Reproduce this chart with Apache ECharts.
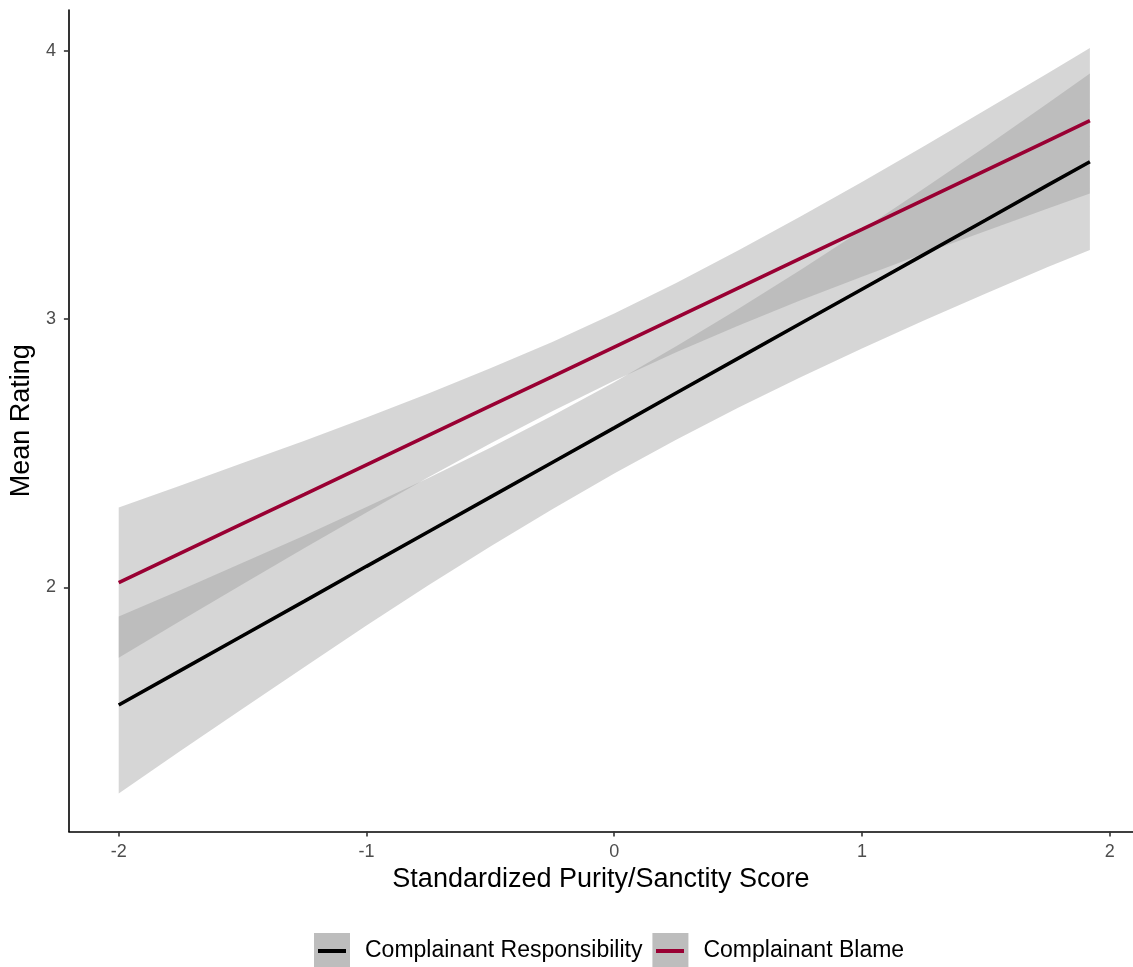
<!DOCTYPE html>
<html>
<head>
<meta charset="utf-8">
<title>Mean Rating by Standardized Purity/Sanctity Score</title>
<script src="https://cdn.jsdelivr.net/npm/echarts@6/dist/echarts.min.js"></script>
<style>
  html, body { margin: 0; padding: 0; background: #ffffff; }
  #chart { width: 1133px; height: 967px; }
</style>
</head>
<body>
<div id="chart"></div>
<script>
// Standardized purity/sanctity score at which the fits are evaluated
const xGrid = [-2, -1.75, -1.5, -1.25, -1, -0.75, -0.5, -0.25, 0, 0.25, 0.5, 0.75, 1, 1.25, 1.5, 1.75, 1.92];

// Complainant Responsibility: fitted line and 95% band
const respFit   = [1.562, 1.691, 1.820, 1.949, 2.079, 2.208, 2.337, 2.466, 2.595, 2.725, 2.854, 2.983, 3.112, 3.241, 3.370, 3.500, 3.587];
const respLower = [1.232, 1.391, 1.548, 1.704, 1.858, 2.008, 2.153, 2.292, 2.425, 2.551, 2.670, 2.783, 2.891, 2.995, 3.096, 3.195, 3.258];
const respUpper = [1.892, 1.991, 2.092, 2.194, 2.300, 2.408, 2.521, 2.640, 2.765, 2.899, 3.038, 3.183, 3.333, 3.487, 3.644, 3.805, 3.916];

// Complainant Blame: fitted line and 95% band
const blameFit   = [2.018, 2.128, 2.238, 2.347, 2.457, 2.567, 2.677, 2.786, 2.896, 3.006, 3.116, 3.226, 3.335, 3.445, 3.555, 3.665, 3.740];
const blameLower = [1.738, 1.876, 2.012, 2.147, 2.280, 2.411, 2.537, 2.657, 2.771, 2.877, 2.976, 3.070, 3.158, 3.245, 3.329, 3.413, 3.469];
const blameUpper = [2.298, 2.380, 2.464, 2.547, 2.634, 2.723, 2.817, 2.915, 3.021, 3.135, 3.256, 3.382, 3.512, 3.645, 3.781, 3.917, 4.011];

// Axis tick values
const xTicks = [-2, -1, 0, 1, 2];
const yTicks = [2, 3, 4];

const seriesNames = ['Complainant Responsibility', 'Complainant Blame'];
const lineColors = ['#000000', '#990033'];

const FONT = 'Liberation Sans, Arial, sans-serif';
const BAND_FILL = 'rgba(153,153,153,0.4)';

function pairs(xs, ys) {
  return xs.map((x, i) => [x, ys[i]]);
}

// Confidence band drawn as one polygon through the axis scales
function bandSeries(name, lower, upper) {
  return {
    type: 'custom',
    name: name,
    silent: true,
    clip: true,
    data: [[xGrid[0], lower[0]]],
    renderItem: function (params, api) {
      const top = xGrid.map((x, i) => api.coord([x, upper[i]]));
      const bottom = xGrid.map((x, i) => api.coord([x, lower[i]])).reverse();
      return {
        type: 'polygon',
        shape: { points: top.concat(bottom) },
        style: { fill: BAND_FILL, stroke: null }
      };
    }
  };
}

function fitSeries(name, values, color) {
  return {
    type: 'line',
    name: name,
    data: pairs(xGrid, values),
    symbol: 'none',
    showSymbol: false,
    silent: true,
    color: color,
    lineStyle: { color: color, width: 3.6 }
  };
}

// Coloured line glyph placed over a legend key box
function keyLine(left, name, color) {
  return {
    left: left,
    top: 949,
    padding: 0,
    icon: 'rect',
    itemWidth: 28,
    itemHeight: 4,
    selectedMode: false,
    formatter: function () { return ''; },
    textStyle: { fontSize: 1, color: 'rgba(0,0,0,0)' },
    itemStyle: { borderWidth: 0 },
    data: [{ name: name, itemStyle: { color: color, borderWidth: 0 } }]
  };
}

const chart = echarts.init(document.getElementById('chart'), null, { renderer: 'canvas' });

chart.setOption({
  backgroundColor: '#ffffff',
  animation: false,
  textStyle: { fontFamily: FONT },
  grid: { left: 65, top: 10, width: 1068, height: 821.5, containLabel: false },
  xAxis: {
    type: 'value',
    min: -2.201,
    max: 2.094,
    name: 'Standardized Purity/Sanctity Score',
    nameLocation: 'middle',
    nameGap: 34,
    nameTextStyle: { fontFamily: FONT, fontSize: 27, color: '#000000' },
    axisLine: { show: true, onZero: false, lineStyle: { color: '#000000', width: 1.6 } },
    axisTick: { show: true, length: 5, customValues: xTicks, lineStyle: { color: '#333333', width: 1.6 } },
    axisLabel: { customValues: xTicks, margin: 12, fontFamily: FONT, fontSize: 18, color: '#4d4d4d' },
    splitLine: { show: false }
  },
  yAxis: {
    type: 'value',
    min: 1.0904,
    max: 4.1528,
    name: 'Mean Rating',
    nameLocation: 'middle',
    nameGap: 23,
    nameTextStyle: { fontFamily: FONT, fontSize: 27, color: '#000000' },
    axisLine: { show: true, onZero: false, lineStyle: { color: '#000000', width: 1.6 } },
    axisTick: { show: true, length: 5, customValues: yTicks, lineStyle: { color: '#333333', width: 1.6 } },
    axisLabel: { customValues: yTicks, margin: 13, fontFamily: FONT, fontSize: 18, color: '#4d4d4d' },
    splitLine: { show: false }
  },
  legend: [
    {
      // key boxes with labels
      left: 314,
      top: 933,
      padding: 0,
      orient: 'horizontal',
      icon: 'rect',
      itemWidth: 36,
      itemHeight: 36,
      itemGap: 10,
      selectedMode: false,
      itemStyle: { borderWidth: 0 },
      textStyle: { fontFamily: FONT, fontSize: 23, color: '#000000', padding: [12, 0, 0, 10] },
      data: seriesNames.map(n => ({ name: n, itemStyle: { color: '#bdbdbd', borderWidth: 0 } }))
    },
    keyLine(318, seriesNames[0], lineColors[0]),
    keyLine(656, seriesNames[1], lineColors[1])
  ],
  series: [
    bandSeries('Responsibility band', respLower, respUpper),
    fitSeries(seriesNames[0], respFit, lineColors[0]),
    bandSeries('Blame band', blameLower, blameUpper),
    fitSeries(seriesNames[1], blameFit, lineColors[1])
  ]
});
</script>
</body>
</html>
